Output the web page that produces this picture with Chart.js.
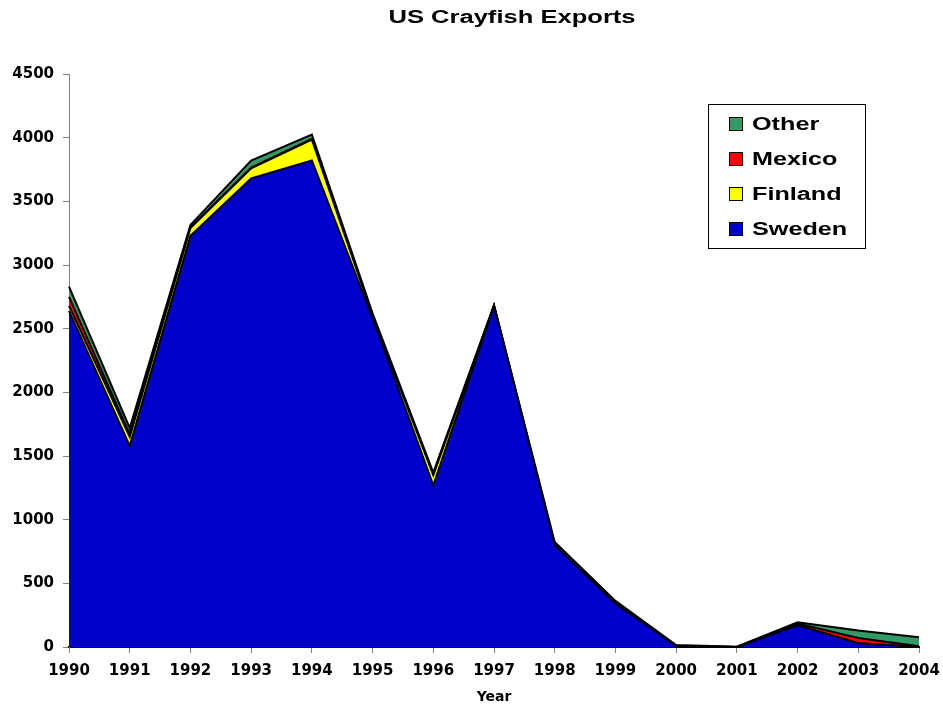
<!DOCTYPE html>
<html>
<head>
<meta charset="utf-8">
<script src="https://cdn.jsdelivr.net/npm/chart.js@4.4.1/dist/chart.umd.min.js"></script>
<style>
  body { margin: 0; background: #fff; }
</style>
</head>
<body>
<canvas id="myChart" width="943" height="710"></canvas>
<script>
// Data

const years = ["1990", "1991", "1992", "1993", "1994", "1995", "1996", "1997", "1998", "1999", "2000", "2001", "2002", "2003", "2004"];
const sweden = [2640, 1580, 3230, 3680, 3820, 2580, 1270, 2680, 800, 340, 8, 0, 170, 30, 0];
const finland = [40, 70, 60, 80, 165, 20, 80, 0, 0, 0, 0, 0, 0, 0, 0];
const mexico = [70, 20, 5, 5, 5, 0, 0, 0, 0, 0, 0, 0, 15, 40, 5];
const other = [80, 50, 20, 55, 35, 20, 20, 5, 25, 22, 8, 2, 10, 60, 72];
const yTicks = [0, 500, 1000, 1500, 2000, 2500, 3000, 3500, 4000, 4500];

// Title + boxed legend inside the plot (text is a bit stretched wide, like the original)

const stretchText = (c, txt, x, y, sx) => {
  c.save();
  c.translate(x, y);
  c.scale(sx, 1);
  c.fillText(txt, 0, 0);
  c.restore();
};

const extras = {
  id: "extras",
  afterDraw(chart) {
    const c = chart.ctx;
    c.save();
    c.fillStyle = "#000";
    c.font = "bold 18px 'Liberation Sans'";
    c.textAlign = "center";
    c.textBaseline = "middle";
    stretchText(c, "US Crayfish Exports", 512, 18, 1.42);

    c.strokeStyle = "#000";
    c.lineWidth = 1;
    c.fillStyle = "#fff";
    c.fillRect(708.5, 104.5, 157, 144);
    c.strokeRect(708.5, 104.5, 157, 144);
    c.textAlign = "left";
    const items = chart.data.datasets.slice().reverse();
    items.forEach((ds, i) => {
      const y = 124 + i * 35;
      c.fillStyle = ds.backgroundColor;
      c.fillRect(729, y - 7, 14, 14);
      c.strokeRect(729.5, y - 6.5, 13, 13);
      c.fillStyle = "#000";
      stretchText(c, ds.label, 752, y + 1, 1.4);
    });
    c.restore();
  },
};

const ctx = document.getElementById("myChart");

new Chart(ctx, {
  type: "line",
  data: {
    labels: years,
    datasets: [
      { label: "Sweden", data: sweden, backgroundColor: "#0000CC", fill: "origin" },
      { label: "Finland", data: finland, backgroundColor: "#FFFF00", fill: "-1" },
      { label: "Mexico", data: mexico, backgroundColor: "#FF0000", fill: "-1" },
      { label: "Other", data: other, backgroundColor: "#339966", fill: "-1" },
    ].map((d) => Object.assign(d, { borderColor: "#000", borderWidth: 2, pointRadius: 0, tension: 0 })),
  },
  options: {
    responsive: false,
    animation: false,
    layout: { padding: { top: 74, right: 24, left: 0, bottom: 0 } },
    plugins: { legend: { display: false }, title: { display: false }, tooltip: { enabled: false } },
    scales: {
      x: {
        offset: false,
        grid: { drawOnChartArea: false, color: "#808080", tickLength: 6 },
        border: { color: "#000", width: 2 },
        ticks: { color: "#000", font: { family: "DejaVu Sans", weight: "bold", size: 15 }, maxRotation: 0, autoSkip: false, padding: 9 },
        title: { display: true, text: "Year", color: "#000", font: { family: "DejaVu Sans", weight: "bold", size: 14 }, padding: { top: 4 } },
        afterFit(scale) {
          scale.height = 63;
          scale.paddingLeft = 0;
          scale.paddingRight = 0;
        },
      },
      y: {
        stacked: true,
        min: 0,
        max: 4500,
        grid: { drawOnChartArea: false, color: "#808080", tickLength: 6 },
        border: { color: "#808080", width: 1 },
        afterBuildTicks(scale) { scale.ticks = yTicks.map((v) => ({ value: v })); },
        ticks: { color: "#000", font: { family: "DejaVu Sans", weight: "bold", size: 15 }, padding: 9, callback: (v) => String(v) },
        afterFit(scale) { scale.width = 69; },
      },
    },
  },
  plugins: [extras],
});
</script>
</body>
</html>
